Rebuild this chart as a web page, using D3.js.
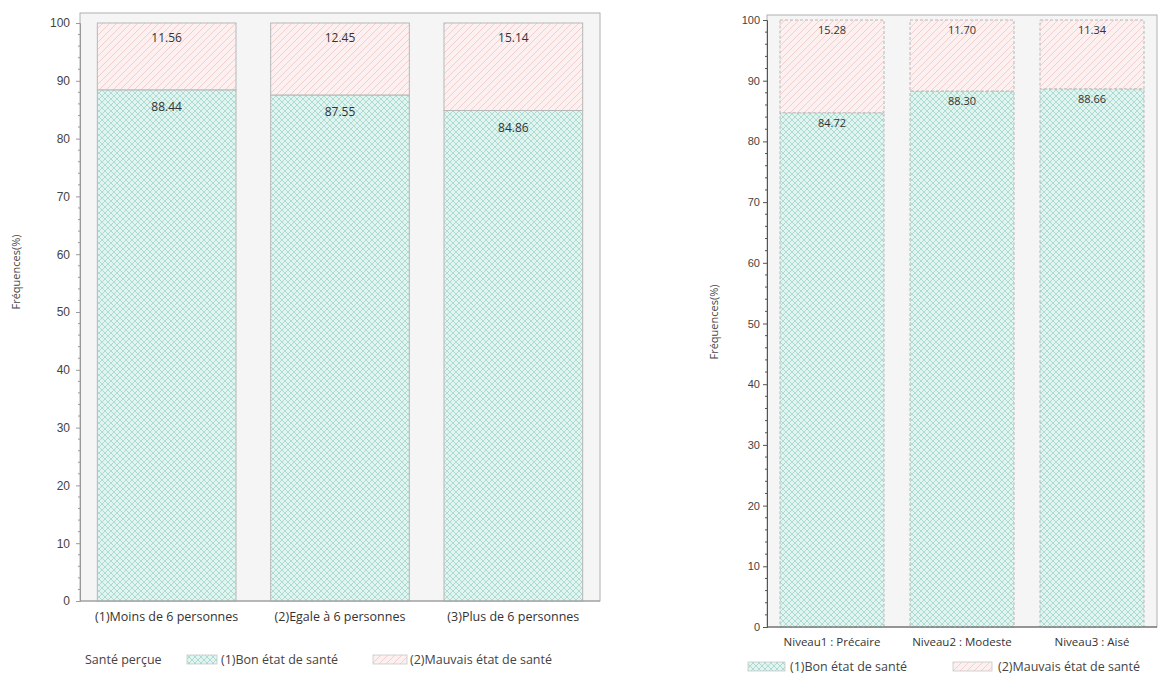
<!DOCTYPE html>
<html><head><meta charset="utf-8">
<script src="https://cdn.jsdelivr.net/npm/d3@7"></script>
<style>body{margin:0;background:#fff;font-family:"Open Sans",Calibri,"Liberation Sans",sans-serif;}</style>
</head><body>
<svg id="c" width="1176" height="675"></svg>
<script>
const leftCategories = ["(1)Moins de 6 personnes", "(2)Egale à 6 personnes", "(3)Plus de 6 personnes"];
const leftGood = [88.44, 87.55, 84.86];
const leftBad = [11.56, 12.45, 15.14];
const rightCategories = ["Niveau1 : Précaire", "Niveau2 : Modeste", "Niveau3 : Aisé"];
const rightGood = [84.72, 88.30, 88.66];
const rightBad = [15.28, 11.70, 11.34];
const yTicks = [0,10,20,30,40,50,60,70,80,90,100];
const seriesNames = ["(1)Bon état de santé", "(2)Mauvais état de santé"];
const legendTitle = "Santé perçue";
const yTitle = "Fréquences(%)";

const svg = d3.select("#c");
const defs = svg.append("defs");
// green cross-hatch
const pg = defs.append("pattern").attr("id","pGood").attr("patternUnits","userSpaceOnUse")
  .attr("width",6).attr("height",6);
pg.append("rect").attr("width",6).attr("height",6).attr("fill","#e1f4f0");
pg.append("path").attr("d","M0,0L6,6M6,0L0,6").attr("stroke","#a6d8cf").attr("stroke-width",0.9);
// pink diagonal
const pb = defs.append("pattern").attr("id","pBad").attr("patternUnits","userSpaceOnUse")
  .attr("width",7).attr("height",7);
pb.append("rect").attr("width",7).attr("height",7).attr("fill","#fcf1f0");
pb.append("path").attr("d","M-1,8L8,-1M-1,1L1,-1M6,8L8,6").attr("stroke","#f0cfcc").attr("stroke-width",1);

function chart(o){
  const g = svg.append("g");
  g.append("rect").attr("x",o.fx0).attr("y",o.fy0).attr("width",o.fx1-o.fx0).attr("height",o.fy1-o.fy0)
    .attr("fill","#f5f5f5").attr("stroke","#b0b0b0").attr("stroke-width",1);
  const x = d3.scaleBand().domain(o.cats).range([o.fx0,o.fx1]).paddingInner(0.2).paddingOuter(0.1);
  const y = d3.scaleLinear().domain([0,100]).range([o.y0,o.y100]);
  o.cats.forEach((c,i)=>{
    const xb = x(c), w = x.bandwidth();
    g.append("rect").attr("x",xb).attr("y",y(o.good[i])).attr("width",w).attr("height",y(0)-y(o.good[i]))
      .attr("fill","url(#pGood)").attr("stroke","#b8b8b8").attr("stroke-width",1).attr("stroke-dasharray",o.dash);
    g.append("rect").attr("x",xb).attr("y",y(o.good[i]+o.bad[i])).attr("width",w).attr("height",y(o.good[i])-y(o.good[i]+o.bad[i]))
      .attr("fill","url(#pBad)").attr("stroke","#b8b8b8").attr("stroke-width",1).attr("stroke-dasharray",o.dash);
    g.append("text").attr("x",xb+w/2).attr("y",y(100)+o.topOff).attr("text-anchor","middle")
      .attr("font-size",o.vfs).attr("fill","#333").text(o.bad[i].toFixed(2));
    g.append("text").attr("x",xb+w/2).attr("y",y(o.good[i])+o.botOff).attr("text-anchor","middle")
      .attr("font-size",o.vfs).attr("fill","#333").text(o.good[i].toFixed(2));
    g.append("text").attr("x",xb+w/2).attr("y",o.xly).attr("text-anchor","middle")
      .attr("font-size",o.xfs).attr("fill","#333").text(c);
  });
  // y axis
  const ax = g.append("g").attr("transform",`translate(${o.fx0},0)`)
    .call(d3.axisLeft(y).tickValues(yTicks).tickSize(4).tickPadding(o.tp).tickFormat(d3.format("d")));
  ax.select(".domain").attr("stroke",o.axc);
  ax.selectAll(".tick line").attr("stroke",o.axc);
  ax.selectAll("text").attr("font-size",o.yfs).attr("fill","#444").attr("font-family","inherit");
  const minor = d3.range(0,101,2).filter(v=>v%10!==0);
  g.selectAll(null).data(minor).enter().append("line")
    .attr("x1",o.fx0-2).attr("x2",o.fx0).attr("y1",d=>y(d)).attr("y2",d=>y(d)).attr("stroke",o.axc);
  // x axis line
  g.append("line").attr("x1",o.fx0).attr("x2",o.fx1).attr("y1",y(0)).attr("y2",y(0)).attr("stroke",o.axc);
  g.append("text").attr("transform",`translate(${o.ytx},${o.yty}) rotate(-90)`).attr("text-anchor","middle")
    .attr("font-size",11).attr("fill","#444").text(yTitle);
  return {x,y};
}

chart({cats:leftCategories, good:leftGood, bad:leftBad, fx0:80, fx1:600, fy0:13, fy1:601,
  y0:601, y100:23, dash:null, topOff:19, botOff:21, vfs:12, xfs:12.5, xly:621,
  tp:6, yfs:12, axc:"#999", ytx:20, yty:272});
chart({cats:rightCategories, good:rightGood, bad:rightBad, fx0:767, fx1:1157, fy0:15, fy1:627,
  y0:627, y100:20, dash:"3,2", topOff:14, botOff:14, vfs:11, xfs:11.5, xly:646,
  tp:3, yfs:11, axc:"#555", ytx:718, yty:322});

// legends
function legend(items, y){
  items.forEach(it=>{
    if(it.fill){
      svg.append("rect").attr("x",it.x).attr("y",y-9).attr("width",it.w).attr("height",9)
        .attr("fill",it.fill).attr("stroke","#c8c8c8").attr("stroke-width",0.8);
    } else {
      svg.append("text").attr("x",it.x).attr("y",y).attr("font-size",it.fs).attr("fill","#444").text(it.t);
    }
  });
}
legend([{x:85,t:legendTitle,fs:12.5},{x:187,w:30,fill:"url(#pGood)"},{x:221,t:seriesNames[0],fs:12.5},
  {x:373,w:34,fill:"url(#pBad)"},{x:410,t:seriesNames[1],fs:12.5}], 664);
legend([{x:748,w:37,fill:"url(#pGood)"},{x:790,t:seriesNames[0],fs:12.5},
  {x:953,w:39,fill:"url(#pBad)"},{x:998,t:seriesNames[1],fs:12.5}], 671);
</script>
</body></html>
